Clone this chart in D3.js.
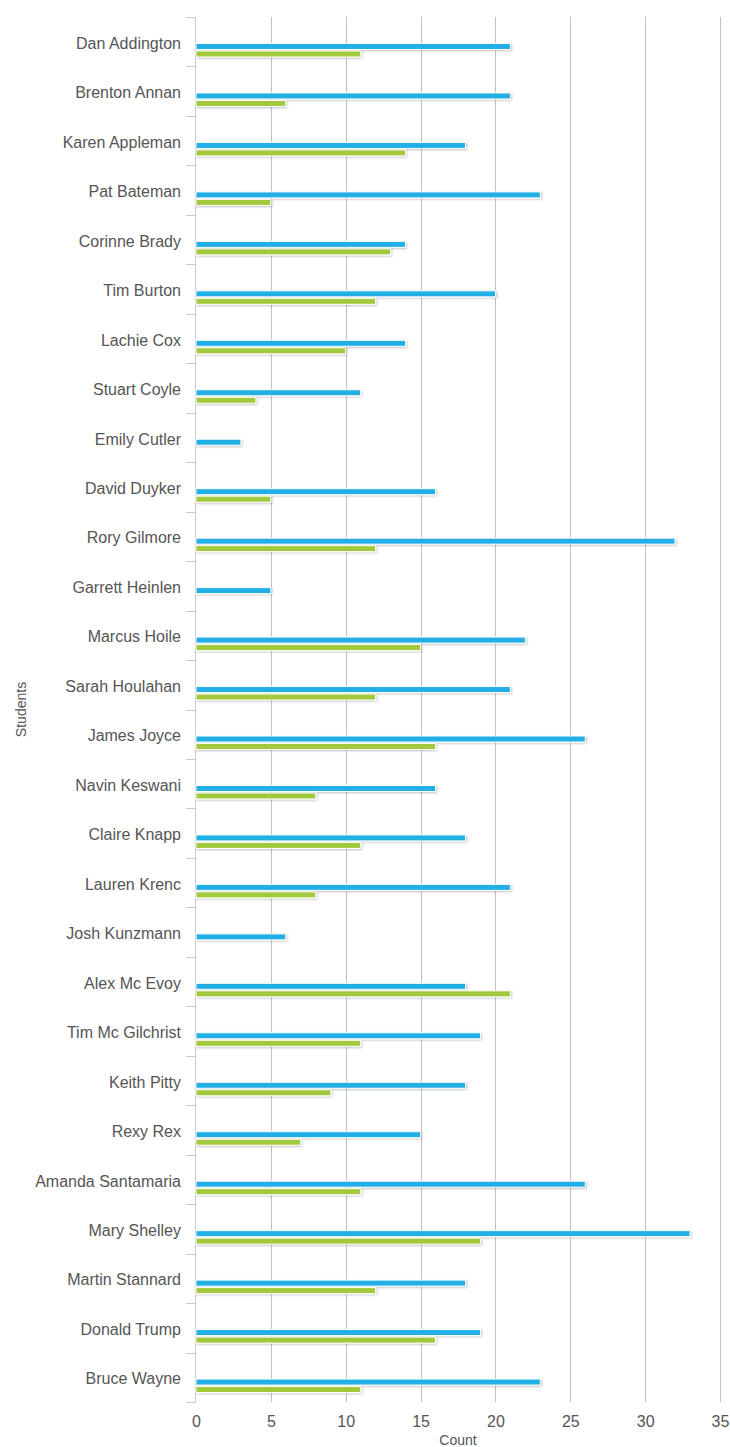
<!DOCTYPE html>
<html>
<head>
<meta charset="utf-8">
<script src="https://cdn.jsdelivr.net/npm/d3@7"></script>
<style>
	body { margin: 0; background: #fff; }
	text { font-family: "Helvetica Neue", Helvetica, "Liberation Sans", Arial, sans-serif; fill: #555; }
</style>
</head>
<body>
<div id="chart"></div>
<script>
const students = [
	"Dan Addington", "Brenton Annan", "Karen Appleman", "Pat Bateman", "Corinne Brady",
	"Tim Burton", "Lachie Cox", "Stuart Coyle", "Emily Cutler", "David Duyker",
	"Rory Gilmore", "Garrett Heinlen", "Marcus Hoile", "Sarah Houlahan", "James Joyce",
	"Navin Keswani", "Claire Knapp", "Lauren Krenc", "Josh Kunzmann", "Alex Mc Evoy",
	"Tim Mc Gilchrist", "Keith Pitty", "Rexy Rex", "Amanda Santamaria", "Mary Shelley",
	"Martin Stannard", "Donald Trump", "Bruce Wayne"
];
const blueCounts = [21, 21, 18, 23, 14, 20, 14, 11, 3, 16, 32, 5, 22, 21, 26, 16, 18, 21, 6, 18, 19, 18, 15, 26, 33, 18, 19, 23];
const greenCounts = [11, 6, 14, 5, 13, 12, 10, 4, 0, 5, 12, 0, 15, 12, 16, 8, 11, 8, 0, 21, 11, 9, 7, 11, 19, 12, 16, 11];
const xTicks = [0, 5, 10, 15, 20, 25, 30, 35];

const width = 730;
const height = 1447;
const margin = {top: 17, right: 10, bottom: 45, left: 196};
const BAR_HEIGHT = 6;
const BLUE = "#20afe6";
const GREEN = "#a2c93a";
const AXIS_COLOR = "#c3cbd9";
const GRID_COLOR = "#c2c2c2";

const svg = d3.select("#chart").append("svg")
	.attr("width", width)
	.attr("height", height);

// soft shadow under the bars
const defs = svg.append("defs");
defs.append("filter")
	.attr("id", "shadow")
	.attr("x", "-5%").attr("y", "-100%")
	.attr("width", "110%").attr("height", "300%")
	.append("feDropShadow")
	.attr("dx", 1).attr("dy", 1)
	.attr("stdDeviation", 1)
	.attr("flood-color", "#000")
	.attr("flood-opacity", 0.25);

const x = d3.scaleLinear()
	.domain([0, 35])
	.range([margin.left, 720]);

const y = d3.scaleBand()
	.domain(students)
	.range([margin.top, height - margin.bottom])
	.padding(0);

// grid lines
svg.append("g")
	.attr("class", "grid")
	.selectAll("line")
	.data(xTicks.filter(d => d > 0))
	.join("line")
	.attr("x1", d => Math.round(x(d)) + 0.5)
	.attr("x2", d => Math.round(x(d)) + 0.5)
	.attr("y1", margin.top)
	.attr("y2", height - margin.bottom)
	.attr("stroke", GRID_COLOR);

// x axis
const xAxis = d3.axisBottom(x)
	.tickValues(xTicks)
	.tickSize(0)
	.tickPadding(14);

svg.append("g")
	.attr("class", "x-axis")
	.attr("transform", `translate(0,${height - margin.bottom})`)
	.call(xAxis)
	.call(g => g.select(".domain").remove())
	.call(g => g.selectAll("text")
		.style("font-size", "16px")
		.attr("fill", "#555"));

// y axis with ticks on band boundaries
const yAxisGroup = svg.append("g").attr("class", "y-axis");
yAxisGroup.append("line")
	.attr("x1", margin.left - 0.5)
	.attr("x2", margin.left - 0.5)
	.attr("y1", margin.top)
	.attr("y2", height - margin.bottom)
	.attr("stroke", AXIS_COLOR);

const boundaries = students.map(s => y(s)).concat([y.range()[1]]);
yAxisGroup.selectAll(".tick-line")
	.data(boundaries)
	.join("line")
	.attr("class", "tick-line")
	.attr("x1", margin.left - 10)
	.attr("x2", margin.left)
	.attr("y1", d => Math.round(d) + 0.5)
	.attr("y2", d => Math.round(d) + 0.5)
	.attr("stroke", AXIS_COLOR);

yAxisGroup.selectAll(".label")
	.data(students)
	.join("text")
	.attr("class", "label")
	.attr("x", margin.left - 15)
	.attr("y", d => y(d) + y.bandwidth() / 2 + 1.5)
	.attr("dy", "0.35em")
	.attr("text-anchor", "end")
	.style("font-size", "16px")
	.text(d => d);

// bars
const rows = students.map((s, i) => ({name: s, blue: blueCounts[i], green: greenCounts[i]}));
const barGroup = svg.append("g").attr("class", "bars");

const series = [
	{key: "blue", color: BLUE, offset: 26.5},
	{key: "green", color: GREEN, offset: 34}
];

series.forEach(ser => {
	barGroup.append("g")
		.selectAll("rect")
		.data(rows.filter(d => d[ser.key] > 0))
		.join("rect")
		.attr("x", x(0))
		.attr("y", d => y(d.name) + ser.offset)
		.attr("width", d => x(d[ser.key]) - x(0))
		.attr("height", BAR_HEIGHT)
		.attr("fill", ser.color)
		.attr("stroke", "#fff")
		.attr("stroke-width", 1)
		.attr("filter", "url(#shadow)");
});

// axis titles
svg.append("text")
	.attr("x", (x(0) + x(35)) / 2)
	.attr("y", 1445)
	.attr("text-anchor", "middle")
	.style("font-size", "14px")
	.text("Count");

svg.append("text")
	.attr("transform", `translate(26,${(margin.top + height - margin.bottom) / 2}) rotate(-90)`)
	.attr("text-anchor", "middle")
	.style("font-size", "14px")
	.text("Students");
</script>
</body>
</html>
